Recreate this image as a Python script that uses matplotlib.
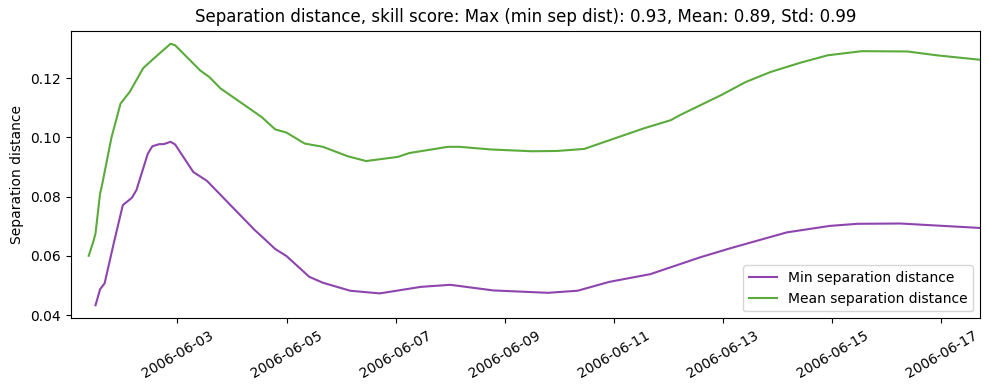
import numpy as np
import pandas as pd
import matplotlib
matplotlib.use("Agg")
import matplotlib.pyplot as plt
import matplotlib.dates as mdates

t0 = pd.Timestamp("2006-06-01 00:00")

# hours since 2006-06-01 00:00 and values
min_hours = [12, 14, 16, 20, 24, 28, 30, 35, 37, 40, 42, 45, 47, 55, 61, 82, 86,
             91, 96, 106, 112, 124, 137, 155, 168, 187, 211, 224, 238, 256, 278,
             291, 316, 335, 347, 366, 401]
min_sep = [0.0433, 0.0487, 0.0507, 0.0642, 0.0771, 0.0796, 0.0822, 0.0945, 0.0970,
           0.0977, 0.0977, 0.0985, 0.0976, 0.0883, 0.0853, 0.0687, 0.0659, 0.0623,
           0.0599, 0.0529, 0.0509, 0.0482, 0.0473, 0.0495, 0.0502, 0.0483, 0.0475,
           0.0482, 0.0512, 0.0538, 0.0595, 0.0625, 0.0679, 0.0701, 0.0708, 0.0709,
           0.0694]

mean_hours = [9, 11, 12, 14, 15, 19, 23, 27, 33, 37, 45, 47, 58, 62, 67, 85, 91, 96,
              104, 112, 123, 131, 145, 150, 167, 172, 186, 204, 215, 227, 233, 253,
              265, 269, 287, 298, 309, 322, 334, 349, 369, 382, 401]
mean_sep = [0.0600, 0.0647, 0.0676, 0.0810, 0.0844, 0.0999, 0.1114, 0.1153, 0.1234,
            0.1262, 0.1316, 0.1311, 0.1226, 0.1204, 0.1165, 0.1069, 0.1027, 0.1016,
            0.0979, 0.0968, 0.0936, 0.0920, 0.0934, 0.0947, 0.0968, 0.0968, 0.0959,
            0.0953, 0.0954, 0.0961, 0.0977, 0.1030, 0.1058, 0.1075, 0.1142, 0.1187,
            0.1221, 0.1252, 0.1277, 0.1291, 0.1290, 0.1277, 0.1262]

x_start = t0 + pd.Timedelta(hours=1)
x_end = t0 + pd.Timedelta(hours=401)

min_t = t0 + pd.to_timedelta(min_hours, unit="h")
mean_t = t0 + pd.to_timedelta(mean_hours, unit="h")

fig, ax = plt.subplots(figsize=(9.89, 3.9), dpi=100)
ax.plot(min_t, min_sep, color="#8e44ad", label="Min separation distance")
ax.plot(mean_t, mean_sep, color="#5aab3c", label="Mean separation distance")
ax.set_xlim(x_start, x_end)
ax.xaxis.set_major_locator(mdates.DayLocator(bymonthday=range(3, 32, 2)))
ax.xaxis.set_major_formatter(mdates.DateFormatter("%Y-%m-%d"))
plt.setp(ax.get_xticklabels(), rotation=30)
ax.set_ylabel("Separation distance")
ax.set_title("Separation distance, skill score: Max (min sep dist): 0.93, Mean: 0.89, Std: 0.99")
ax.legend(loc="lower right")
fig.subplots_adjust(left=0.0713, right=0.9909, top=0.9213, bottom=0.1838)
plt.savefig("out.png", dpi=100)
plt.close()
